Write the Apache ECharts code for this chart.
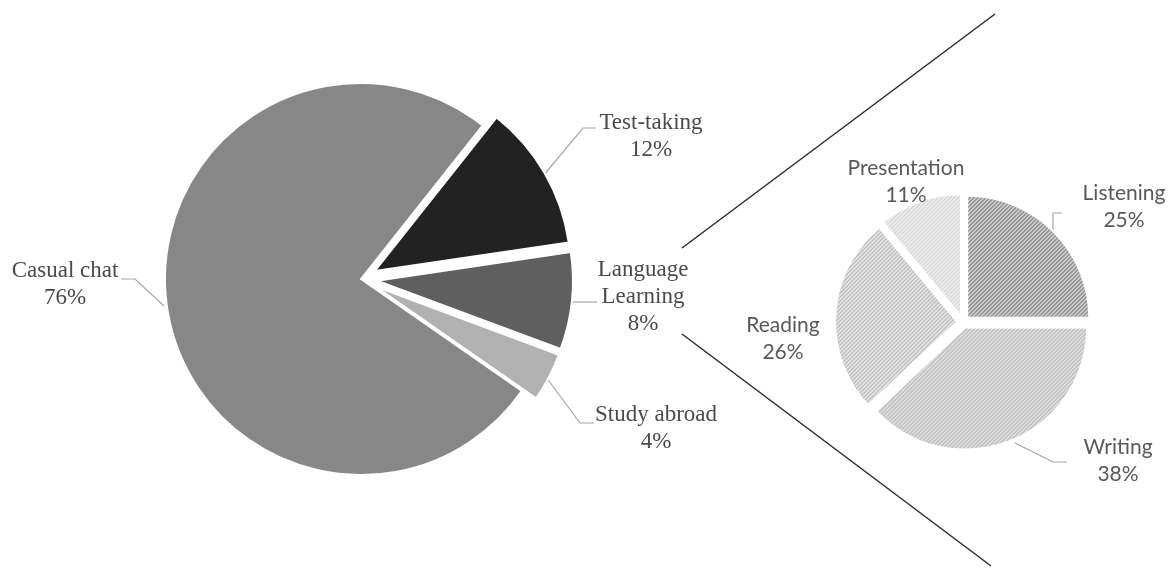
<!DOCTYPE html>
<html>
<head>
<meta charset="utf-8">
<script src="https://cdn.jsdelivr.net/npm/echarts@6/dist/echarts.min.js"></script>
<style>html,body{margin:0;padding:0;background:#fff}#c{width:1172px;height:568px}</style>
</head>
<body>
<div id="c"></div>
<script>
// ---- Data ----
const mainCategories = ['Casual chat', 'Test-taking', 'Language Learning', 'Study abroad'];
const mainLabels = ['Casual chat', 'Test-taking', 'Language\nLearning', 'Study abroad'];
const mainValues = [76, 12, 8, 4];
const subCategories = ['Listening', 'Writing', 'Reading', 'Presentation'];
const subValues = [25, 38, 26, 11];

// ---- Styles ----
const mainColors = ['#878787', '#222222', '#5f5f5f', '#b1b1b1'];
const mainExploded = [false, true, true, true];
const subPatterns = [
  { bg: '#d6d6d6', line: '#8c8c8c' },
  { bg: '#e6e6e6', line: '#b9b9b9' },
  { bg: '#e8e8e8', line: '#bdbdbd' },
  { bg: '#f1f1f1', line: '#d6d6d6' }
];
function makePattern(bg, line) {
  const c = document.createElement('canvas');
  c.width = 4; c.height = 4;
  const ctx = c.getContext('2d');
  ctx.fillStyle = bg; ctx.fillRect(0, 0, 4, 4);
  ctx.fillStyle = line;
  for (let x = 0; x < 4; x++) {
    for (let y = 0; y < 4; y++) {
      const k = (x + y) % 4;
      if (k === 2 || k === 3) ctx.fillRect(x, y, 1, 1);
    }
  }
  return { image: c, repeat: 'repeat' };
}

// label placement (annotations)
const mainLabelLayout = [
  { x: 65, y: 284, line: [[164, 306], [135, 279], [121, 279]] },
  { x: 651, y: 136, line: [[543, 176], [583, 128], [596, 128]] },
  { x: 643, y: 297, line: [[565, 302], [582, 302], [597, 302]] },
  { x: 656, y: 428, line: [[546, 377], [580, 423], [594, 423]] }
];
const subLabelLayout = [
  { x: 1124, y: 207, line: [[1053, 232], [1053, 213], [1062, 213]] },
  { x: 1118, y: 461, line: [[1015, 443], [1053, 462], [1067, 462]] },
  { x: 783, y: 339, line: null },
  { x: 906, y: 182, line: null }
];

const serif = '"Liberation Serif", "Times New Roman", serif';
const sans = 'Lato, "Open Sans", sans-serif';

const MAIN = { center: [361, 279], radius: 196, startAngle: -34.8 };
const SUB = { center: [963, 322], radius: 122, startAngle: 90 };

function piePieces(cfg, offset, names, values, styleFn, exploded) {
  return {
    type: 'pie',
    center: cfg.center,
    radius: cfg.radius,
    startAngle: cfg.startAngle,
    clockwise: true,
    selectedMode: 'multiple',
    selectedOffset: offset,
    avoidLabelOverlap: false,
    emphasis: { disabled: true },
    select: { itemStyle: { borderColor: '#ffffff', borderWidth: 2 } },
    itemStyle: { borderColor: '#ffffff', borderWidth: 2 },
    label: { show: false },
    labelLine: { show: false },
    data: names.map((n, i) => ({
      name: n, value: values[i], selected: exploded[i],
      itemStyle: styleFn(i)
    }))
  };
}

function pieLabels(cfg, names, values, layout, textStyle, fmt) {
  return {
    type: 'pie',
    center: cfg.center,
    radius: cfg.radius,
    startAngle: cfg.startAngle,
    clockwise: true,
    silent: true,
    avoidLabelOverlap: false,
    emphasis: { disabled: true },
    itemStyle: { color: 'rgba(0,0,0,0)', borderWidth: 0 },
    label: Object.assign({ show: true, align: 'center', formatter: fmt }, textStyle),
    labelLine: { show: true, lineStyle: { color: '#a6a6a6', width: 1.2 } },
    labelLayout: p => {
      const l = layout[p.dataIndex];
      const r = { x: l.x, y: l.y, align: 'center', verticalAlign: 'middle' };
      if (l.line) r.labelLinePoints = l.line;
      return r;
    },
    data: names.map((n, i) => ({
      name: n, value: values[i],
      labelLine: { show: !!layout[i].line }
    }))
  };
}

const chart = echarts.init(document.getElementById('c'), null, { renderer: 'canvas' });
chart.setOption({
  animation: false,
  backgroundColor: '#ffffff',
  graphic: [
    { type: 'line', shape: { x1: 682, y1: 248, x2: 995, y2: 14 }, style: { stroke: '#2b2b2b', lineWidth: 1.5 } },
    { type: 'line', shape: { x1: 682, y1: 334, x2: 991, y2: 566 }, style: { stroke: '#2b2b2b', lineWidth: 1.5 } }
  ],
  series: [
    piePieces(MAIN, 16, mainCategories, mainValues, i => ({ color: mainColors[i] }), mainExploded),
    piePieces(SUB, 6, subCategories, subValues,
      i => ({ color: makePattern(subPatterns[i].bg, subPatterns[i].line) }),
      subCategories.map(() => true)),
    pieLabels(MAIN, mainCategories, mainValues, mainLabelLayout,
      { fontFamily: serif, fontSize: 23, lineHeight: 27, color: '#4a4a4a' },
      p => mainLabels[p.dataIndex] + '\n' + Math.round(p.percent) + '%'),
    pieLabels(SUB, subCategories, subValues, subLabelLayout,
      { fontFamily: sans, fontSize: 21, lineHeight: 27, color: '#595959' },
      p => p.name + '\n' + Math.round(p.percent) + '%')
  ]
});
</script>
</body>
</html>
